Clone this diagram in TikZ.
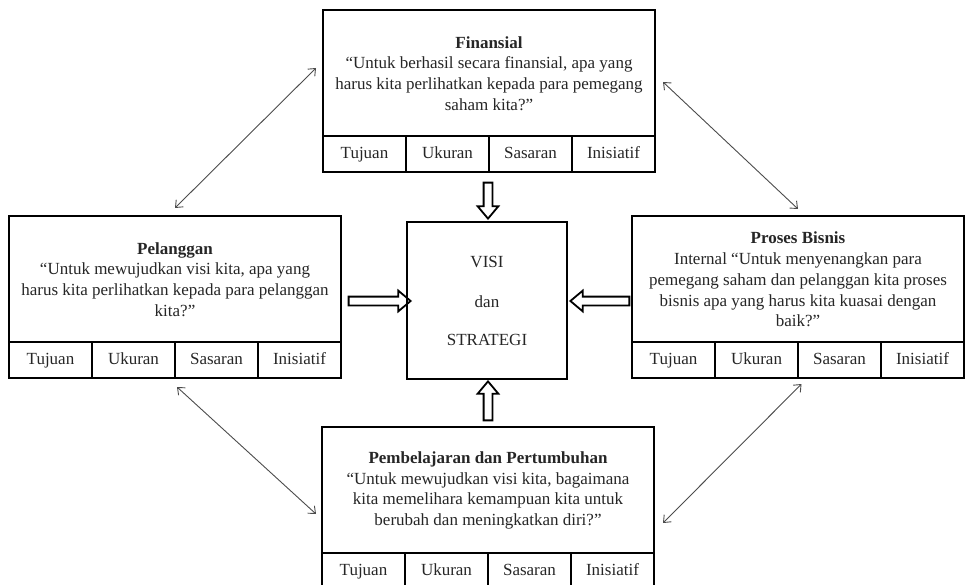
\documentclass[tikz,border=0pt]{standalone}
\usepackage{fontspec}
\setmainfont{Liberation Serif}
\usetikzlibrary{shapes.arrows,calc,arrows.meta}
\tikzset{
  mainbox/.style={draw, line width=1.6pt, outer sep=0pt, inner sep=0pt, minimum width=332pt, minimum height=126pt, align=center, font=\fontsize{17}{20.8}\selectfont, text=black!85},
  cell/.style={draw, line width=1.6pt, outer sep=0pt, inner sep=0pt, minimum width=83pt, minimum height=36pt, text height=12pt, text depth=3.5pt, font=\fontsize{17}{20.8}\selectfont, text=black!85},
  centerbox/.style={draw, line width=1.6pt, outer sep=0pt, minimum width=160pt, minimum height=157pt},
  ctext/.style={font=\fontsize{17}{20}\selectfont, text=black!85},
  harrow/.style={single arrow, draw, line width=1.8pt, inner sep=3.5pt, single arrow head extend=6pt, single arrow tip angle=80, outer sep=0pt},
  diag/.style={draw=black!70, line width=0.9pt, {Straight Barb[length=6pt,width=10pt]}-{Straight Barb[length=6pt,width=10pt]}}
}
\newcommand\persp[4]{%
  \node[mainbox, anchor=north west] (#1) at (#2,#3) {\rule{0pt}{6pt}\\[-14pt]#4};
  \node[cell, anchor=north west] (#1-1) at (#1.south west) {Tujuan};
  \node[cell, anchor=west] (#1-2) at (#1-1.east) {Ukuran};
  \node[cell, anchor=west] (#1-3) at (#1-2.east) {Sasaran};
  \node[cell, anchor=west] (#1-4) at (#1-3.east) {Inisiatif};
}
\begin{document}
\begin{tikzpicture}[x=1pt,y=-1pt]
\useasboundingbox[fill=white] (0,0) rectangle (965,585);
\persp{F}{323}{10}{\textbf{Finansial}\\“Untuk berhasil secara finansial, apa yang\\harus kita perlihatkan kepada para pemegang\\saham kita?”}
\persp{L}{9}{216}{\textbf{Pelanggan}\\“Untuk mewujudkan visi kita, apa yang\\harus kita perlihatkan kepada para pelanggan\\kita?”}
\persp{R}{632}{216}{\textbf{Proses Bisnis}\\Internal “Untuk menyenangkan para\\pemegang saham dan pelanggan kita proses\\bisnis apa yang harus kita kuasai dengan\\baik?”}
\persp{B}{322}{427}{\textbf{Pembelajaran dan Pertumbuhan}\\“Untuk mewujudkan visi kita, bagaimana\\kita memelihara kemampuan kita untuk\\berubah dan meningkatkan diri?”}
\node[centerbox, anchor=north west] (C) at (407,222) {};
\node[ctext] (c1) at (487,262) {VISI};
\node[ctext] (c2) at (487,302) {dan};
\node[ctext] (c3) at (487,340) {STRATEGI};
% hollow block arrows
\node[harrow, minimum height=36pt, shape border rotate=270] (aT) at (488,198) {};
\node[harrow, minimum height=39pt, shape border rotate=90] (aB) at (488,403.5) {};
\node[harrow, minimum height=62pt, shape border rotate=0] (aL) at (377,301) {};
\node[harrow, minimum height=59pt, shape border rotate=180] (aR) at (602.5,301) {};
% diagonal connectors
\coordinate (tl1) at ($(L.north)+(0,-8)$);
\coordinate (tl2) at ($(F.west)+(-7,-5)$);
\coordinate (tr1) at ($(F.east)+(8,9)$);
\coordinate (tr2) at ($(R.north)+(0,-7)$);
\coordinate (bl1) at ($(L-3.south west)+(2,9)$);
\coordinate (bl2) at ($(B.west)+(-6,24)$);
\coordinate (br1) at ($(R-3.south)+(-38,6)$);
\coordinate (br2) at ($(B.east)+(9,33)$);
\draw[diag] (tl1) -- (tl2);
\draw[diag] (tr1) -- (tr2);
\draw[diag] (bl1) -- (bl2);
\draw[diag] (br1) -- (br2);
\end{tikzpicture}
\end{document}
